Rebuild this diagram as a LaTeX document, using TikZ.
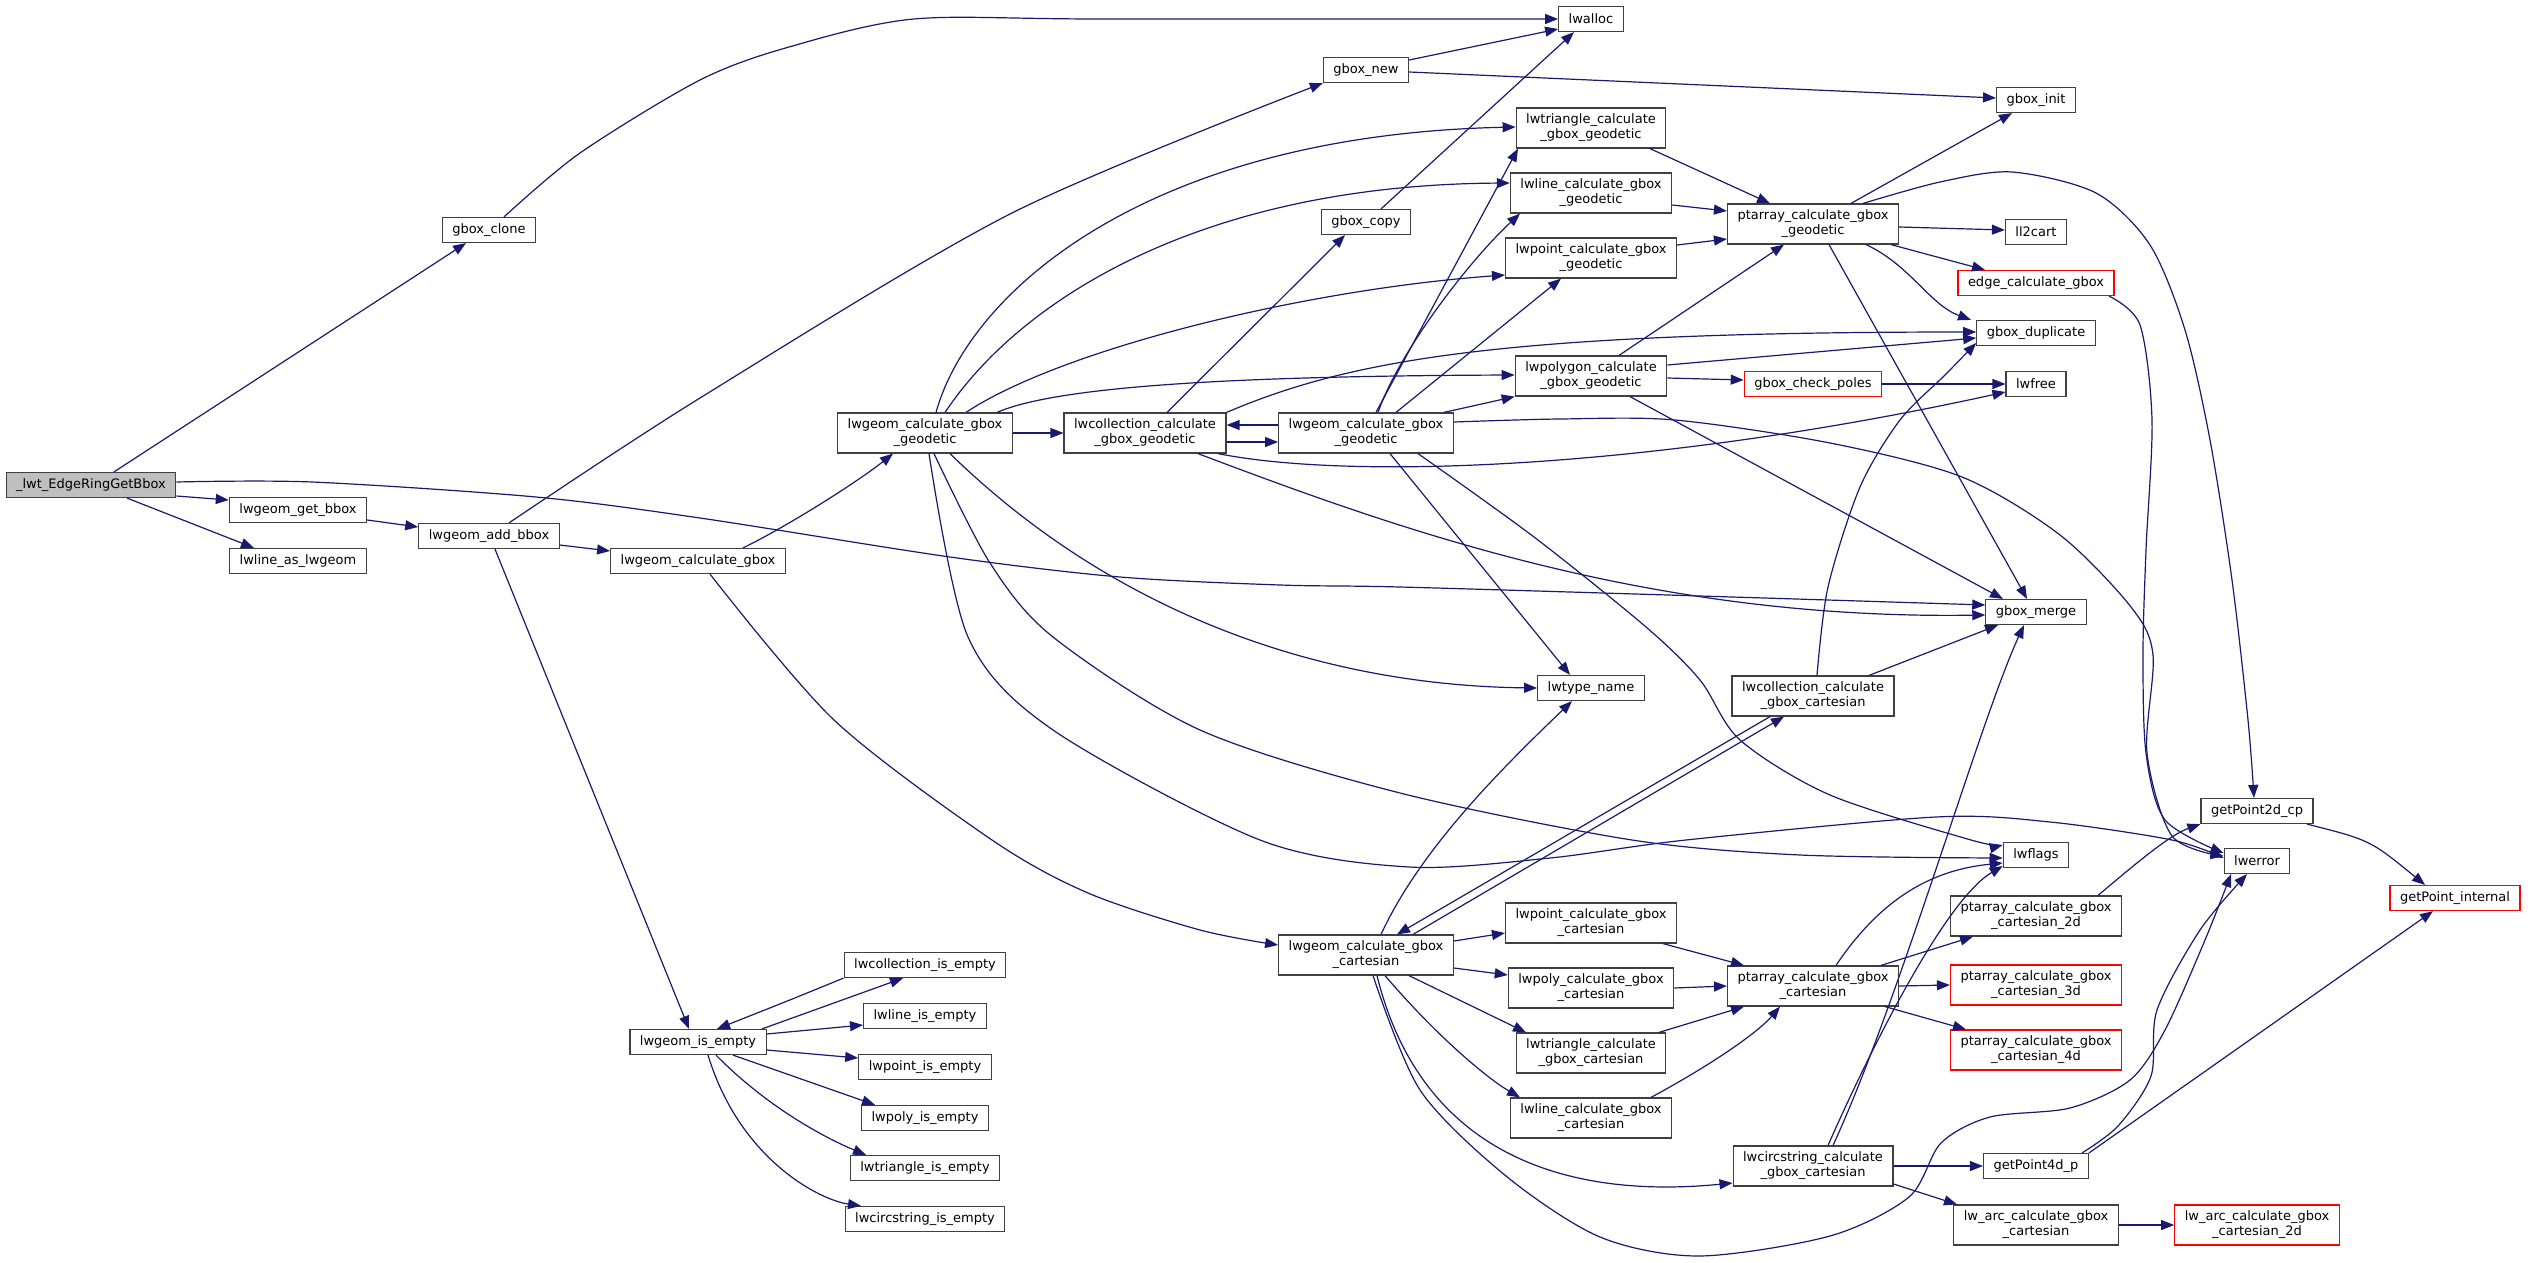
\documentclass[tikz,border=0pt]{standalone}
\usepackage{fontspec}
\setmainfont{DejaVu Sans}
\usetikzlibrary{arrows.meta}
\definecolor{callblue}{HTML}{191970}
\definecolor{boxline}{HTML}{404040}
\definecolor{rootgray}{HTML}{BFBFBF}
\tikzset{
  fn/.style={draw=boxline, line width=1.2pt, fill=white, inner xsep=10pt, inner ysep=3pt,
    minimum height=25pt, align=center, font=\fontsize{13}{15}\selectfont},
  fntwo/.style={fn, minimum height=40pt},
  missing/.style={draw=red},
  call/.style={draw=callblue, line width=1.2pt, -{Triangle[length=13pt,width=10pt]}},
}
\begin{document}
\begin{tikzpicture}[x=1pt,y=-1pt]
\useasboundingbox (0,0) rectangle (2528,1263);

% Functions
\node[fn, fill=rootgray] (root) at (91,485) {\_lwt\_EdgeRingGetBbox};
\node[fn] (gboxclone) at (489,230) {gbox\_clone};
\node[fn] (getbbox) at (298,510) {lwgeom\_get\_bbox};
\node[fn] (lineas) at (298,561) {lwline\_as\_lwgeom};
\node[fn] (addbbox) at (489,536) {lwgeom\_add\_bbox};
\node[fn] (calcgbox) at (698,561) {lwgeom\_calculate\_gbox};
\node[fn] (isempty) at (698,1042) {lwgeom\_is\_empty};
\node[fntwo] (geodA) at (925,433) {lwgeom\_calculate\_gbox\\\_geodetic};
\node[fn] (colempty) at (925,965) {lwcollection\_is\_empty};
\node[fn] (lineempty) at (925,1016) {lwline\_is\_empty};
\node[fn] (pointempty) at (925,1067) {lwpoint\_is\_empty};
\node[fn] (polyempty) at (925,1118) {lwpoly\_is\_empty};
\node[fn] (triempty) at (925,1168) {lwtriangle\_is\_empty};
\node[fn] (circempty) at (925,1219) {lwcircstring\_is\_empty};
\node[fntwo] (colgeod) at (1145,433) {lwcollection\_calculate\\\_gbox\_geodetic};
\node[fn] (gboxnew) at (1366,70) {gbox\_new};
\node[fn] (gboxcopy) at (1366,222) {gbox\_copy};
\node[fntwo] (geodB) at (1366,433) {lwgeom\_calculate\_gbox\\\_geodetic};
\node[fntwo] (cart) at (1366,955) {lwgeom\_calculate\_gbox\\\_cartesian};
\node[fn] (lwalloc) at (1591,19) {lwalloc};
\node[fntwo] (trigeod) at (1591,128) {lwtriangle\_calculate\\\_gbox\_geodetic};
\node[fntwo] (linegeod) at (1591,193) {lwline\_calculate\_gbox\\\_geodetic};
\node[fntwo] (pointgeod) at (1591,258) {lwpoint\_calculate\_gbox\\\_geodetic};
\node[fntwo] (polygeod) at (1591,376) {lwpolygon\_calculate\\\_gbox\_geodetic};
\node[fn] (typename) at (1591,688) {lwtype\_name};
\node[fntwo] (pointcart) at (1591,923) {lwpoint\_calculate\_gbox\\\_cartesian};
\node[fntwo] (polycart) at (1591,988) {lwpoly\_calculate\_gbox\\\_cartesian};
\node[fntwo] (tricart) at (1591,1053) {lwtriangle\_calculate\\\_gbox\_cartesian};
\node[fntwo] (linecart) at (1591,1118) {lwline\_calculate\_gbox\\\_cartesian};
\node[fntwo] (ptgeod) at (1813,224) {ptarray\_calculate\_gbox\\\_geodetic};
\node[fn, missing] (poles) at (1813,384) {gbox\_check\_poles};
\node[fntwo] (colcart) at (1813,696) {lwcollection\_calculate\\\_gbox\_cartesian};
\node[fntwo] (ptcart) at (1813,986) {ptarray\_calculate\_gbox\\\_cartesian};
\node[fntwo] (circcart) at (1813,1166) {lwcircstring\_calculate\\\_gbox\_cartesian};
\node[fn] (gboxinit) at (2036,100) {gbox\_init};
\node[fn] (ll2cart) at (2036,232) {ll2cart};
\node[fn, missing] (edgecalc) at (2036,283) {edge\_calculate\_gbox};
\node[fn] (dup) at (2036,333) {gbox\_duplicate};
\node[fn] (lwfree) at (2036,384) {lwfree};
\node[fn] (merge) at (2036,612) {gbox\_merge};
\node[fn] (lwflags) at (2036,855) {lwflags};
\node[fntwo] (pttwod) at (2036,916) {ptarray\_calculate\_gbox\\\_cartesian\_2d};
\node[fntwo, missing] (ptthreed) at (2036,985) {ptarray\_calculate\_gbox\\\_cartesian\_3d};
\node[fntwo, missing] (ptfourd) at (2036,1050) {ptarray\_calculate\_gbox\\\_cartesian\_4d};
\node[fn] (pfourd) at (2036,1166) {getPoint4d\_p};
\node[fntwo] (arc) at (2036,1225) {lw\_arc\_calculate\_gbox\\\_cartesian};
\node[fn] (ptwodcp) at (2257,811) {getPoint2d\_cp};
\node[fn] (lwerror) at (2257,861) {lwerror};
\node[fntwo, missing] (arctwod) at (2257,1225) {lw\_arc\_calculate\_gbox\\\_cartesian\_2d};
\node[fn, missing] (internal) at (2455,898) {getPoint\_internal};

% Calls from the root
\draw[call] ([xshift=23]root.north) -- ([xshift=-23]gboxclone.south);
\draw[call] ([yshift=-11]root.east) -- ([yshift=10]getbbox.west);
\draw[call] ([xshift=36]root.south) -- ([xshift=-44]lineas.north);
\draw[call] plot[smooth] coordinates {([yshift=3]root.east) (312,482) (536,497) (700,518) (950,557) (1120,577) (1280,585) (1400,587) (1700,596) ([yshift=7]merge.west)};

% gbox_clone, lwgeom_get_bbox, lwgeom_add_bbox
\draw[call] plot[smooth] coordinates {([xshift=15]gboxclone.north) (580,153) (700,80) (789,47) (914,19) (1100,19) (lwalloc.west)};
\draw[call] ([yshift=-10]getbbox.east) -- ([yshift=9]addbbox.west);
\draw[call] ([yshift=-9]addbbox.east) -- ([yshift=10]calcgbox.west);
\draw[call] plot[smooth] coordinates {([xshift=20]addbbox.north) (700,398) (1012,213) (gboxnew.south west)};
\draw[call] ([xshift=6]addbbox.south) -- ([xshift=-9]isempty.north);

% lwgeom_calculate_gbox
\draw[call] ([xshift=45]calcgbox.north) .. controls (790,525) and (860,480) .. ([xshift=-32]geodA.south);
\draw[call] plot[smooth] coordinates {([xshift=12]calcgbox.south) (834,720) (992,840) (1088,893) (1200,930) ([yshift=10]cart.west)};

% Geodetic branch
\draw[call] (geodA.east) -- (colgeod.west);
\draw[call] ([xshift=11]geodA.north) .. controls (970,290) and (1150,135) .. ([yshift=1]trigeod.west);
\draw[call] ([xshift=20]geodA.north) .. controls (1020,300) and (1200,185) .. ([yshift=10]linegeod.west);
\draw[call] ([xshift=41]geodA.north) .. controls (1060,350) and (1300,290) .. ([yshift=-17]pointgeod.west);
\draw[call] ([xshift=72]geodA.north) .. controls (1060,385) and (1250,376) .. ([yshift=1]polygeod.west);
\draw[call] ([xshift=25]geodA.south) .. controls (1100,600) and (1300,685) .. (typename.west);
\draw[call] plot[smooth] coordinates {([xshift=9]geodA.south) (990,563) (1053,637) (1200,730) (1400,793) (1632,840) (1800,855) ([yshift=-3]lwflags.west)};
\draw[call] plot[smooth] coordinates {([xshift=4]geodA.south) (968,637) (1053,730) (1260,840) (1409,867) (1550,858) (1686,840) (1936,817) (2050,822) (2172,840) ([yshift=3]lwerror.west)};

\draw[call] ([yshift=-9]colgeod.east) -- ([yshift=-9]geodB.west);
\draw[call] ([yshift=8]geodB.west) -- ([yshift=8]colgeod.east);
\draw[call] ([xshift=22]colgeod.north) -- ([xshift=-21]gboxcopy.south);
\draw[call] (colgeod.north east) .. controls (1350,360) and (1500,332) .. ([yshift=1]dup.west);
\draw[call] ([xshift=53]colgeod.south) .. controls (1400,530) and (1650,620) .. ([yshift=-3]merge.west);
\draw[call] ([xshift=73]colgeod.south) .. controls (1350,480) and (1650,470) .. ([yshift=-8]lwfree.west);

\draw[call] ([xshift=10]geodB.north) -- ([xshift=-73]trigeod.south);
\draw[call] ([xshift=12]geodB.north) .. controls (1400,350) and (1470,260) .. ([xshift=-71]linegeod.south);
\draw[call] ([xshift=30]geodB.north) -- ([xshift=-30]pointgeod.south);
\draw[call] ([xshift=-10]geodB.north east) -- (polygeod.south west);
\draw[call] ([xshift=24]geodB.south) -- ([xshift=-21]typename.north);
\draw[call] plot[smooth] coordinates {([xshift=52]geodB.south) (1534,537) (1646,627) (1700,680) (1740,740) (1830,795) (1971,840) ([yshift=10]lwflags.west)};
\draw[call] plot[smooth] coordinates {([yshift=11]geodB.east) (1560,419) (1675,420) (1830,443) (1962,477) (2060,535) (2131,607) (2153,655) (2147,753) (2172,836) ([yshift=5]lwerror.west)};

\draw[call] ([yshift=10]gboxnew.east) -- ([yshift=-10]lwalloc.west);
\draw[call] ([yshift=-2]gboxnew.east) -- ([yshift=2]gboxinit.west);
\draw[call] ([xshift=15]gboxcopy.north) -- ([xshift=-17]lwalloc.south);

\draw[call] ([xshift=59]trigeod.south) -- ([xshift=-43]ptgeod.north);
\draw[call] ([yshift=-12]linegeod.east) -- ([yshift=13]ptgeod.west);
\draw[call] ([yshift=13]pointgeod.east) -- ([yshift=-15]ptgeod.west);
\draw[call] ([xshift=28]polygeod.north) -- ([xshift=-29]ptgeod.south);
\draw[call] ([yshift=11]polygeod.east) -- ([yshift=-5]dup.west);
\draw[call] ([yshift=-2]polygeod.east) -- ([yshift=4]poles.west);
\draw[call] ([xshift=39]polygeod.south) -- ([xshift=-33]merge.north);
\draw[call] (poles.east) -- (lwfree.west);

% ptarray_calculate_gbox_geodetic
\draw[call] ([xshift=38]ptgeod.north) -- ([xshift=-24]gboxinit.south);
\draw[call] ([yshift=-3]ptgeod.east) -- ([yshift=2]ll2cart.west);
\draw[call] ([xshift=78]ptgeod.south) -- ([xshift=-51]edgecalc.north);
\draw[call] ([xshift=53]ptgeod.south) .. controls (1910,265) and (1930,305) .. ([xshift=-65]dup.north);
\draw[call] ([xshift=16]ptgeod.south) -- ([xshift=-9]merge.north);
\draw[call] plot[smooth] coordinates {([xshift=50]ptgeod.north) (1940,182) (2012,172) (2096,193) (2150,245) (2185,330) (2210,440) (2232,580) (2248,720) ([xshift=-3]ptwodcp.north)};
\draw[call] plot[smooth] coordinates {([xshift=73]edgecalc.south) (2140,325) (2152,420) (2146,550) (2143,653) (2146,753) (2165,820) ([yshift=8]lwerror.west)};

% Cartesian branch
\draw[call] ([xshift=-43]colcart.south) -- ([xshift=31]cart.north);
\draw[call] ([xshift=47]cart.north) -- ([xshift=-29]colcart.south);
\draw[call] ([xshift=56]colcart.north) -- ([xshift=-38]merge.south);
\draw[call] plot[smooth] coordinates {([xshift=4]colcart.north) (1828,587) (1860,487) (1900,420) (1945,375) ([yshift=-10]dup.west)};
\draw[call] ([xshift=15]cart.north) .. controls (1420,850) and (1500,770) .. ([xshift=-19]typename.south);
\draw[call] ([yshift=14]cart.east) -- ([yshift=-10]pointcart.west);
\draw[call] ([yshift=-13]cart.east) -- ([yshift=13]polycart.west);
\draw[call] ([xshift=43]cart.south) -- ([xshift=-65]tricart.north);
\draw[call] ([xshift=19]cart.south) .. controls (1440,1040) and (1490,1080) .. ([xshift=-71]linecart.north);
\draw[call] ([xshift=11]cart.south) .. controls (1420,1150) and (1560,1200) .. ([yshift=-17]circcart.west);
\draw[call] plot[smooth] coordinates {([xshift=7]cart.south) (1420,1090) (1506,1176) (1600,1237) (1699,1256) (1830,1236) (1909,1197) (1941,1143) (1990,1117) (2070,1108) (2130,1080) (2165,1030) (2205,940) ([xshift=-26]lwerror.south)};

\draw[call] ([xshift=72]pointcart.south) -- ([xshift=-69]ptcart.north);
\draw[call] (polycart.east) -- (ptcart.west);
\draw[call] ([xshift=68]tricart.north) -- ([xshift=-69]ptcart.south);
\draw[call] ([xshift=60]linecart.north) .. controls (1720,1060) and (1760,1030) .. ([xshift=-33]ptcart.south);

\draw[call] ([xshift=23]ptcart.north) .. controls (1880,900) and (1930,870) .. ([yshift=-8]lwflags.west);
\draw[call] ([xshift=68]ptcart.north) -- ([xshift=-63]pttwod.south);
\draw[call] (ptcart.east) -- (ptthreed.west);
\draw[call] ([xshift=72]ptcart.south) -- ([xshift=-70]ptfourd.north);

\draw[call] ([xshift=15]circcart.north) .. controls (1870,1050) and (1945,900) .. ([yshift=-11]lwflags.west);
\draw[call] ([xshift=20]circcart.north) .. controls (1900,1000) and (1980,720) .. ([xshift=-12]merge.south);
\draw[call] (circcart.east) -- (pfourd.west);
\draw[call] ([yshift=-18]circcart.east) -- ([xshift=-79]arc.north);
\draw[call] (arc.east) -- (arctwod.west);

% Point access
\draw[call] plot[smooth] coordinates {([xshift=46]pfourd.north) (2118,1126) (2151,1076) (2157,1010) (2200,930) ([xshift=-10]lwerror.south)};
\draw[call] (pfourd.north east) -- ([xshift=-22]internal.south);
\draw[call] ([xshift=50]ptwodcp.south) .. controls (2370,840) .. ([xshift=-30]internal.north);
\draw[call] ([xshift=62]pttwod.north) .. controls (2140,860) and (2170,835) .. (ptwodcp.south west);

% lwgeom_is_empty
\draw[call] (colempty.south west) .. controls (790,1000) .. ([xshift=19]isempty.north);
\draw[call] ([xshift=64]isempty.north) -- ([xshift=-22]colempty.south);
\draw[call] ([yshift=8]isempty.east) -- ([yshift=-9]lineempty.west);
\draw[call] ([yshift=-8]isempty.east) -- ([yshift=9]pointempty.west);
\draw[call] ([xshift=35]isempty.south) -- ([xshift=-50]polyempty.north);
\draw[call] ([xshift=18]isempty.south) .. controls (770,1110) and (830,1140) .. ([xshift=-59]triempty.north);
\draw[call] ([xshift=10]isempty.south) .. controls (740,1160) and (820,1200) .. ([xshift=-64]circempty.north);
\end{tikzpicture}
\end{document}
